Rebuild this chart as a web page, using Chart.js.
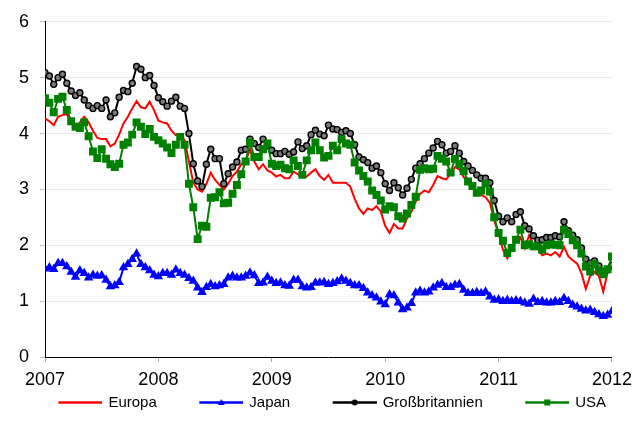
<!DOCTYPE html>
<html lang="de">
<head>
<meta charset="utf-8">
<title>Renditen 10-jähriger Staatsanleihen</title>
<script src="https://cdn.jsdelivr.net/npm/chart.js@4.4.0/dist/chart.umd.min.js"></script>
<style>
  html, body { margin: 0; padding: 0; background: #fff; }
  #wrap { width: 634px; height: 437px; }
</style>
</head>
<body>
<div id="wrap"><canvas id="chart" width="634" height="437"></canvas></div>
<script>
// Jahresmarken der x-Achse, Werte alle zwei Wochen (26 pro Jahr)
const jahre = [2007, 2008, 2009, 2010, 2011, 2012];

const europa = [
  4.27, 4.22, 4.15, 4.3, 4.33, 4.35, 4.18, 4.12, 4.2, 4.3, 4.2, 4.05, 3.92, 3.9, 3.9, 3.77, 3.82, 3.98, 4.18, 4.3, 4.45, 4.58, 4.47, 4.45, 4.57, 4.42,
  4.23, 4.2, 4.18, 4.05, 3.97, 3.98, 3.88, 3.5, 3.12, 3.0, 2.96, 3.1, 3.3, 3.17, 3.08, 3.0, 3.1, 3.24, 3.32, 3.45, 3.5, 3.72, 3.5, 3.36, 3.45, 3.34,
  3.3, 3.23, 3.26, 3.2, 3.2, 3.32, 3.27, 3.22, 3.23, 3.3, 3.36, 3.24, 3.17, 3.26, 3.12, 3.12, 3.12, 3.12, 3.05, 2.83, 2.66, 2.56, 2.66, 2.63, 2.7, 2.6,
  2.35, 2.22, 2.38, 2.3, 2.3, 2.48, 2.6, 2.78, 2.92, 2.98, 2.95, 3.08, 3.24, 3.2, 3.18, 3.28, 3.4, 3.36, 3.22, 3.12, 3.04, 2.96, 2.9, 2.86, 2.76, 2.45,
  2.2, 1.92, 1.77, 1.94, 2.08, 2.14, 1.95, 2.18, 2.0, 1.94, 1.82, 1.85, 1.82, 1.88, 1.8, 1.97, 1.8, 1.73, 1.67, 1.5, 1.22, 1.45, 1.52, 1.45, 1.17, 1.52,
  1.6
];

const japan = [
  1.58, 1.6, 1.57, 1.68, 1.68, 1.62, 1.52, 1.43, 1.55, 1.5, 1.42, 1.47, 1.45, 1.46, 1.38, 1.26, 1.28, 1.34, 1.6, 1.66, 1.75, 1.85, 1.66, 1.6, 1.55, 1.47,
  1.44, 1.5, 1.5, 1.47, 1.56, 1.5, 1.47, 1.41, 1.36, 1.24, 1.16, 1.25, 1.3, 1.26, 1.28, 1.3, 1.42, 1.45, 1.42, 1.42, 1.45, 1.51, 1.46, 1.32, 1.33, 1.43,
  1.36, 1.32, 1.33, 1.28, 1.27, 1.38, 1.38, 1.26, 1.24, 1.25, 1.33, 1.33, 1.34, 1.3, 1.32, 1.35, 1.4, 1.36, 1.32, 1.28, 1.28, 1.23, 1.15, 1.1, 1.06, 0.99,
  0.94, 1.12, 1.1, 0.97, 0.85, 0.88, 0.96, 1.15, 1.18, 1.15, 1.17, 1.24, 1.29, 1.32, 1.25, 1.25, 1.29, 1.3, 1.2, 1.14, 1.14, 1.16, 1.14, 1.17, 1.08, 1.02,
  1.03, 1.0, 1.02, 1.0, 1.01, 1.0, 0.97, 0.95, 1.04, 0.98, 1.0, 0.97, 0.97, 1.0, 0.98, 1.05, 1.0, 0.93, 0.9, 0.86, 0.83, 0.84, 0.8, 0.76, 0.73, 0.75,
  0.82
];

const grossbritannien = [
  5.09, 5.03, 4.88, 5.0, 5.06, 4.9, 4.76, 4.68, 4.73, 4.6, 4.5, 4.45, 4.5, 4.45, 4.6, 4.3, 4.37, 4.65, 4.77, 4.75, 4.9, 5.2, 5.15, 5.0, 5.04, 4.86,
  4.64, 4.57, 4.49, 4.58, 4.65, 4.49, 4.45, 4.0, 3.46, 3.15, 3.05, 3.45, 3.72, 3.55, 3.55, 3.1, 3.28, 3.4, 3.49, 3.7, 3.72, 3.9, 3.82, 3.75, 3.9, 3.78,
  3.7, 3.64, 3.64, 3.68, 3.63, 3.67, 3.85, 3.73, 3.78, 3.98, 4.06, 3.99, 3.96, 4.15, 4.08, 4.07, 4.02, 4.05, 4.0, 3.8, 3.58, 3.53, 3.48, 3.38, 3.42, 3.3,
  3.1, 2.98, 3.12, 3.03, 2.9, 3.02, 3.18, 3.38, 3.46, 3.55, 3.65, 3.74, 3.86, 3.8, 3.65, 3.68, 3.78, 3.65, 3.5, 3.42, 3.34, 3.26, 3.2, 3.2, 3.12, 2.8,
  2.52, 2.42, 2.49, 2.42, 2.55, 2.6, 2.35, 2.29, 2.17, 2.09, 2.1, 2.14, 2.14, 2.17, 2.15, 2.42, 2.26, 2.18, 2.1, 1.95, 1.75, 1.68, 1.72, 1.63, 1.53, 1.56,
  1.64
];

const usa = [
  4.63, 4.55, 4.38, 4.62, 4.66, 4.42, 4.22, 4.12, 4.1, 4.2, 3.95, 3.68, 3.56, 3.72, 3.55, 3.45, 3.4, 3.46, 3.8, 3.84, 3.98, 4.2, 4.12, 3.99, 4.08, 3.94,
  3.88, 3.82, 3.75, 3.65, 3.8, 3.94, 3.8, 3.1, 2.68, 2.11, 2.35, 2.33, 2.85, 2.86, 2.95, 2.75, 2.76, 2.92, 3.08, 3.27, 3.5, 3.84, 3.58, 3.58, 3.72, 3.82,
  3.46, 3.42, 3.44, 3.38, 3.36, 3.52, 3.42, 3.26, 3.52, 3.7, 3.84, 3.7, 3.57, 3.6, 3.78, 3.7, 3.9, 3.82, 3.8, 3.48, 3.34, 3.24, 3.14, 2.98, 2.9, 2.8,
  2.64, 2.7, 2.68, 2.52, 2.48, 2.57, 2.72, 2.87, 3.35, 3.38, 3.36, 3.37, 3.6, 3.55, 3.5, 3.3, 3.55, 3.45, 3.33, 3.14, 3.06, 2.94, 2.98, 3.1, 2.96, 2.5,
  2.22, 2.08, 1.86, 1.95, 2.1, 2.28, 2.0, 2.02, 1.98, 1.98, 1.92, 2.0, 2.02, 2.01, 2.0, 2.28, 2.2, 2.09, 2.0, 1.85, 1.62, 1.53, 1.66, 1.55, 1.48, 1.57,
  1.8
];

// Zeitpunkt jedes Wertes als Dezimaljahr
const zeit = europa.map((_, i) => jahre[0] + i / 26);

const schrift = "'Liberation Sans', Arial, sans-serif";

function punkte(werte) {
  return werte.map((w, i) => ({ x: zeit[i], y: w }));
}

// Legendensymbol wie in Excel: Linie mit Marker in der Mitte,
// links davon freier Platz als Abstand zum vorherigen Eintrag
function legendenSymbol(farbe, marker) {
  const c = document.createElement("canvas");
  c.width = 88;
  c.height = 15;
  const g = c.getContext("2d");
  g.strokeStyle = farbe;
  g.fillStyle = farbe;
  g.lineWidth = 2.5;
  g.beginPath();
  g.moveTo(44, 7.5);
  g.lineTo(88, 7.5);
  g.stroke();
  if (marker === "triangle") {
    g.beginPath();
    g.moveTo(66, 4);
    g.lineTo(69.5, 10);
    g.lineTo(62.5, 10);
    g.closePath();
    g.fill();
  } else if (marker === "circle") {
    g.beginPath();
    g.arc(66, 7.5, 3, 0, Math.PI * 2);
    g.fill();
  } else if (marker === "rect") {
    g.fillRect(63, 4.5, 6, 6);
  }
  return c;
}

const symbole = [
  legendenSymbol("#ff0000", null),
  legendenSymbol("#0000ff", "triangle"),
  legendenSymbol("#000000", "circle"),
  legendenSymbol("#008000", "rect"),
];

const ctx = document.getElementById("chart").getContext("2d");

new Chart(ctx, {
  type: "line",
  data: {
    datasets: [
      {
        label: "Europa",
        data: punkte(europa),
        borderColor: "#ff0000",
        backgroundColor: "#ff0000",
        borderWidth: 2,
        pointRadius: 0,
        order: 3,
      },
      {
        label: "Japan",
        data: punkte(japan),
        borderColor: "#0000ff",
        backgroundColor: "#0000ff",
        borderWidth: 2,
        pointStyle: "triangle",
        pointRadius: 3.5,
        order: 2,
      },
      {
        label: "Großbritannien",
        data: punkte(grossbritannien),
        borderColor: "#000000",
        backgroundColor: "#000000",
        borderWidth: 2,
        pointStyle: "circle",
        pointRadius: 3,
        pointBackgroundColor: "#7a7a7a",
        pointBorderColor: "#000000",
        pointBorderWidth: 1.4,
        order: 1,
      },
      {
        label: "USA",
        data: punkte(usa),
        borderColor: "#008000",
        backgroundColor: "#008000",
        borderWidth: 2,
        pointStyle: "rect",
        pointRadius: 4.2,
        order: 0,
      },
    ],
  },
  options: {
    responsive: false,
    animation: false,
    devicePixelRatio: 1,
    layout: {
      padding: { top: 16, right: 12, bottom: 17, left: 0 },
    },
    plugins: {
      tooltip: { enabled: false },
      legend: {
        position: "bottom",
        labels: {
          usePointStyle: true,
          pointStyleWidth: 85,
          padding: 0,
          color: "#000000",
          font: { family: schrift, size: 15 },
          generateLabels: (chart) =>
            chart.data.datasets.map((ds, i) => ({
              text: ds.label,
              pointStyle: symbole[i],
              fillStyle: ds.borderColor,
              strokeStyle: ds.borderColor,
              lineWidth: 0,
              hidden: false,
              datasetIndex: i,
              fontColor: "#000000",
            })),
        },
      },
    },
    scales: {
      x: {
        type: "linear",
        min: jahre[0],
        max: jahre[jahre.length - 1],
        afterBuildTicks: (s) => {
          s.ticks = jahre.map((j) => ({ value: j }));
        },
        afterFit: (s) => {
          s.height = 38;
        },
        grid: {
          drawOnChartArea: false,
          tickLength: 5,
          tickColor: "#a6a6a6",
        },
        border: { color: "#000000", width: 1 },
        ticks: {
          color: "#000000",
          font: { family: schrift, size: 18, lineHeight: 1.8 },
          padding: 2,
          maxRotation: 0,
          autoSkip: false,
          callback: (v) => String(v),
        },
      },
      y: {
        min: 0,
        max: 6,
        afterFit: (s) => {
          s.width = 45;
        },
        grid: {
          color: (c) => (c.tick && c.tick.value === 0 ? "rgba(0,0,0,0)" : "#e9e9e9"),
          tickColor: "#bdbdbd",
          tickLength: 5,
        },
        border: { color: "#000000", width: 1 },
        ticks: {
          stepSize: 1,
          color: "#000000",
          font: { family: schrift, size: 18 },
          padding: 11,
        },
      },
      rechts: {
        type: "linear",
        position: "right",
        afterFit: (s) => {
          s.width = 10;
        },
        grid: { display: false },
        ticks: { display: false },
        border: { display: false },
      },
    },
  },
});
</script>
</body>
</html>
